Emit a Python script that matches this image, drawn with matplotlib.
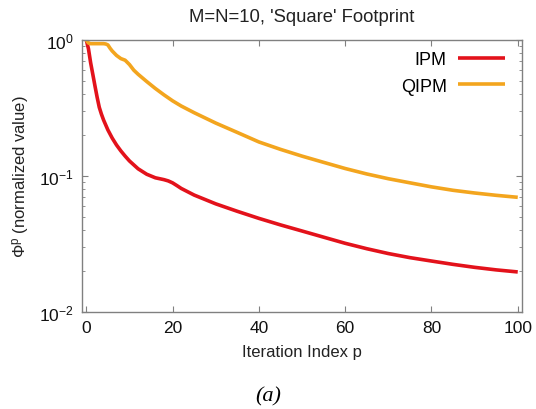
import matplotlib
matplotlib.use("Agg")
import matplotlib.pyplot as plt
from matplotlib.ticker import LogLocator, NullFormatter, FixedLocator

plt.rcParams['font.family'] = ['Liberation Sans', 'DejaVu Sans']
plt.rcParams['mathtext.default'] = 'regular'

ipm_p = [0, 0.5, 1, 1.5, 2, 2.5, 3, 3.5, 4, 5, 6, 7, 8, 9, 10, 12, 14, 16, 17, 18, 19, 20, 21, 22, 25, 30, 35, 40,
         45, 50, 55, 60, 65, 70, 75, 80, 85, 90, 95, 100]
ipm_v = [1.0, 0.86, 0.68, 0.56, 0.46, 0.38, 0.32, 0.285, 0.258, 0.218, 0.19, 0.169, 0.153, 0.14, 0.129, 0.113, 0.103,
         0.097, 0.0955, 0.094, 0.092, 0.089, 0.085, 0.081, 0.0724, 0.0624, 0.055, 0.0488,
         0.0437, 0.0394, 0.0355, 0.032, 0.0292, 0.0269, 0.0251, 0.0237, 0.0224, 0.0213, 0.0204, 0.0197]

qipm_p = [0, 0.5, 1, 2, 3, 4, 4.5, 5, 5.5, 6, 7, 8, 9, 10, 11, 12, 14, 16, 18, 20, 22, 25, 30, 35, 40,
          45, 50, 55, 60, 65, 70, 75, 80, 85, 90, 95, 100]
qipm_v = [1.0, 0.95, 0.94, 0.94, 0.94, 0.94, 0.935, 0.92, 0.87, 0.83, 0.77, 0.73, 0.71, 0.66, 0.60, 0.56,
          0.495, 0.44, 0.395, 0.357, 0.327, 0.292, 0.245, 0.209, 0.178,
          0.157, 0.140, 0.126, 0.1135, 0.1035, 0.0955, 0.0891, 0.0832, 0.0785, 0.075, 0.0721, 0.0697]

xticks = [0, 20, 40, 60, 80, 100]

fig = plt.figure(figsize=(5.36, 4.10), dpi=100)
ax = fig.add_axes([0.153, 0.2366, 0.821, 0.6634])

ax.plot(ipm_p, ipm_v, color='#e3121b', lw=2.6, label='IPM', solid_capstyle='butt', solid_joinstyle='round')
ax.plot(qipm_p, qipm_v, color='#f3a51e', lw=2.6, label='QIPM', solid_capstyle='butt', solid_joinstyle='round')

ax.set_yscale('log')
ax.set_ylim(0.01, 1.0)
ax.set_xlim(-1, 101)
ax.xaxis.set_major_locator(FixedLocator(xticks))
ax.yaxis.set_major_locator(LogLocator(base=10, numticks=10))
ax.yaxis.set_minor_locator(LogLocator(base=10, subs=range(2, 10), numticks=10))
ax.yaxis.set_minor_formatter(NullFormatter())

axis_col = '#808080'
for s in ax.spines.values():
    s.set_color(axis_col)
    s.set_linewidth(1.0)
ax.tick_params(which='both', direction='in', top=True, right=True, color=axis_col, labelsize=12.5,
               labelcolor='#111111')
ax.tick_params(which='major', length=4, width=0.8, pad=6)
ax.tick_params(which='minor', length=2.5, width=0.6)

ax.set_title("M=N=10, 'Square' Footprint", fontsize=13.3, pad=14, color='#222222')
ax.set_xlabel('Iteration Index p', fontsize=12, labelpad=6, color='#222222')
ax.set_ylabel(r'$\Phi^p$ (normalized value)', fontsize=12, labelpad=6, color='#222222')

leg = ax.legend(loc='upper right', frameon=False, markerfirst=False, fontsize=13, handlelength=2.6,
                handletextpad=0.6, labelspacing=0.55, borderaxespad=0.2, bbox_to_anchor=(0.985, 1.0))

fig.text(0.5, 0.032, '(a)', fontsize=16, family='Liberation Serif', style='italic', ha='center', va='center')

fig.savefig('out.png', dpi=100)
